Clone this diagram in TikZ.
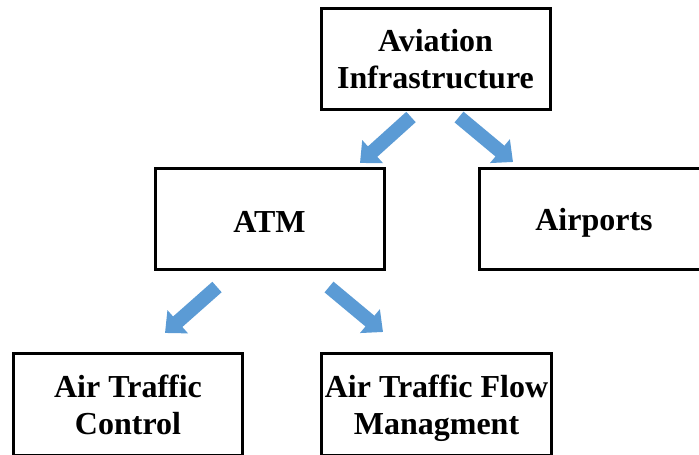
\documentclass[tikz,border=0pt]{standalone}
\usepackage{fontspec}
\setmainfont{Liberation Serif}
\usetikzlibrary{arrows.meta}

\definecolor{arrowblue}{HTML}{5B9BD5}
% two lines, set a little low in their box
\newcommand\lowlines[1]{\raisebox{-4pt}[\height][\depth]{\begin{tabular}{@{}c@{}}#1\end{tabular}}}

\begin{document}
\begin{tikzpicture}[x=1pt, y=1pt,
   box/.style={draw=black, line width=3pt, minimum width=229pt, minimum height=101pt,
      align=center, font=\bfseries\fontsize{32}{37}\selectfont},
   fat/.style={arrowblue, line width=14pt, -{Triangle[width=30pt, length=17pt]}}]
\useasboundingbox (0,0) rectangle (699,455);

\node[box] (infra) at (435.5,395.5) {Aviation\\Infrastructure};
\node[box] (atm) at (269.5,235.5) {\raisebox{-2pt}[\height][\depth]{ATM}};
\node[box, text depth=0pt] (airports) at (594,236) {Airports};
\node[box, minimum height=101.5pt] (atc) at (128,50.25) {\lowlines{Air Traffic\\Control}};
\node[box, minimum height=101.5pt] (atfm) at (436.5,50.25) {\lowlines{Air Traffic Flow\\Managment}};

% block arrows between the levels
\coordinate (infra-l) at (411,338);
\coordinate (atm-in) at (360,292);
\coordinate (infra-r) at (459,338);
\coordinate (airports-in) at (513,293);
\coordinate (atm-l) at (217,168);
\coordinate (atc-in) at (165,122);
\coordinate (atm-r) at (329,168);
\coordinate (atfm-in) at (383,123);

\draw[fat] (infra-l) -- (atm-in);
\draw[fat] (infra-r) -- (airports-in);
\draw[fat] (atm-l) -- (atc-in);
\draw[fat] (atm-r) -- (atfm-in);
\end{tikzpicture}
\end{document}
